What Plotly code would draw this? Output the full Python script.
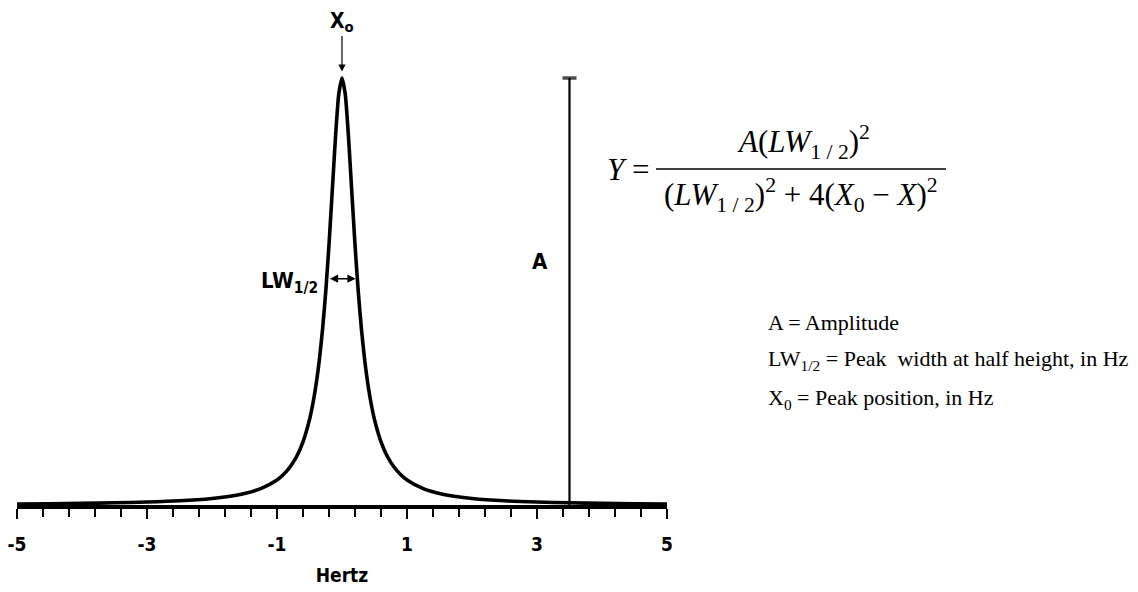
import plotly.graph_objects as go

# Lorentzian line shape (amplitude normalised to 1)
hertz = [-5.0, -4.5, -4.0, -3.5, -3.0, -2.5, -2.0, -1.75, -1.5, -1.25, -1.0, -0.9, -0.8, -0.7,
         -0.6, -0.5, -0.45, -0.4, -0.35, -0.3, -0.25, -0.2, -0.15, -0.1, -0.05, 0.0,
         0.05, 0.1, 0.15, 0.2, 0.25, 0.3, 0.35, 0.4, 0.45, 0.5, 0.6, 0.7, 0.8, 0.9,
         1.0, 1.25, 1.5, 1.75, 2.0, 2.5, 3.0, 3.5, 4.0, 4.5, 5.0]
intensity = [0.0025, 0.0031, 0.0039, 0.0051, 0.0069, 0.0099, 0.0154, 0.0200, 0.027, 0.0385, 0.0588,
             0.0716, 0.089, 0.113, 0.148, 0.200, 0.236, 0.281, 0.338, 0.410, 0.500, 0.610,
             0.735, 0.862, 0.962, 1.0,
             0.962, 0.862, 0.735, 0.610, 0.500, 0.410, 0.338, 0.281, 0.236, 0.200, 0.148,
             0.113, 0.089, 0.0716, 0.0588, 0.0385, 0.027, 0.0200, 0.0154, 0.0099, 0.0069,
             0.0051, 0.0039, 0.0031, 0.0025]

amp_x = [3.5, 3.5]
amp_y = [0.0, 1.0]

tick_vals = [-5, -3, -1, 1, 3, 5]
tick_text = ["-5", "-3", "-1", "1", "3", "5"]

BOLD = "DejaVu Sans Condensed, Liberation Sans Narrow, Arial Narrow, sans-serif"
SERIF = "Liberation Serif, Times New Roman, serif"

fig = go.Figure()
fig.add_trace(go.Scatter(x=hertz, y=intensity, mode="lines",
                         line=dict(color="black", width=3.6, shape="spline", smoothing=0.6),
                         hoverinfo="skip", showlegend=False))
fig.add_trace(go.Scatter(x=amp_x, y=amp_y, mode="lines+markers",
                         line=dict(color="black", width=2.2),
                         marker=dict(symbol=["line-ew", "line-ew-open"], size=[0, 10],
                                     line=dict(color="black", width=3.5)),
                         hoverinfo="skip", showlegend=False, cliponaxis=False))

L, R, T, B = 17, 471, 0, 87
W, H = 1138, 592
PW = W - L - R
PH = H - T - B


def px(xp):
    return (xp - L) / PW


def py(yp):
    return (H - B - yp) / PH


ann = []
# X0 arrow
ann.append(dict(x=0, y=1.015, xref="x", yref="y", text="<b>X<sub>o</sub></b>",
                showarrow=True, arrowhead=2, arrowsize=1.2, arrowwidth=1.2, arrowcolor="black",
                ax=0, ay=-50, font=dict(family=BOLD, size=21, color="black")))
# LW arrow
ann.append(dict(x=0.21, y=0.53, xref="x", yref="y", ax=-0.21, ay=0.53, axref="x", ayref="y",
                text="", showarrow=True, arrowhead=2, startarrowhead=2, arrowside="end+start",
                arrowsize=1.1, startarrowsize=1.1, arrowwidth=1.5, arrowcolor="black"))
ann.append(dict(x=-0.34, y=0.52, xref="x", yref="y", xanchor="right", yanchor="middle",
                text="<b>LW<sub>1/2</sub></b>", showarrow=False,
                font=dict(family=BOLD, size=22, color="black")))
# A label
ann.append(dict(x=3.05, y=0.57, xref="x", yref="y", text="<b>A</b>", showarrow=False,
                font=dict(family=BOLD, size=22, color="black")))

# Formula
FS = 31
ann.append(dict(x=px(651), y=py(170), xref="paper", yref="paper", xanchor="right", yanchor="middle",
                text="<i>Y</i> =", showarrow=False, font=dict(family=SERIF, size=FS, color="black")))
ann.append(dict(x=px(803), y=py(166), xref="paper", yref="paper", xanchor="center", yanchor="bottom",
                text="<i>A</i>(<i>LW</i><sub>1 / 2</sub>)<sup>2</sup>", showarrow=False,
                font=dict(family=SERIF, size=FS, color="black")))
ann.append(dict(x=px(801), y=py(171), xref="paper", yref="paper", xanchor="center", yanchor="top",
                text="(<i>LW</i><sub>1 / 2</sub>)<sup>2</sup> + 4(<i>X</i><sub>0</sub> − <i>X</i>)<sup>2</sup>",
                showarrow=False, font=dict(family=SERIF, size=FS, color="black")))
# Definitions
defs = ["A = Amplitude",
        "LW<sub>1/2</sub> = Peak  width at half height, in Hz",
        "X<sub>0</sub> = Peak position, in Hz"]
def_y = [322, 360, 399]
for t, yy in zip(defs, def_y):
    ann.append(dict(x=px(766), y=py(yy), xref="paper", yref="paper", xanchor="left", yanchor="middle",
                    text=t, showarrow=False, font=dict(family=SERIF, size=22, color="black")))

fig.update_layout(
    width=W, height=H,
    margin=dict(l=L, r=R, t=T, b=B),
    paper_bgcolor="white", plot_bgcolor="white",
    annotations=ann,
    shapes=[dict(type="line", xref="paper", yref="paper", x0=px(656), x1=px(946),
                 y0=py(169), y1=py(169), line=dict(color="black", width=1.4))],
    xaxis=dict(range=[-5, 5], showgrid=False, zeroline=False, showline=True,
               linecolor="black", linewidth=3.5,
               tickmode="array", tickvals=tick_vals, ticktext=tick_text,
               ticks="outside", ticklen=10, tickwidth=2, tickcolor="black",
               ticklabelstandoff=9,
               tickfont=dict(family=BOLD, size=19, color="black", weight="bold"),
               minor=dict(tickmode="linear", tick0=-5, dtick=0.4, ticks="outside",
                          ticklen=8, tickwidth=2, tickcolor="black", showgrid=False),
               title=dict(text="<b>Hertz</b>", standoff=16,
                          font=dict(family=BOLD, size=19, color="black"))),
    yaxis=dict(range=[0, (H - B) / 427.0], visible=False, fixedrange=True),
)

fig.write_html("out.html")
